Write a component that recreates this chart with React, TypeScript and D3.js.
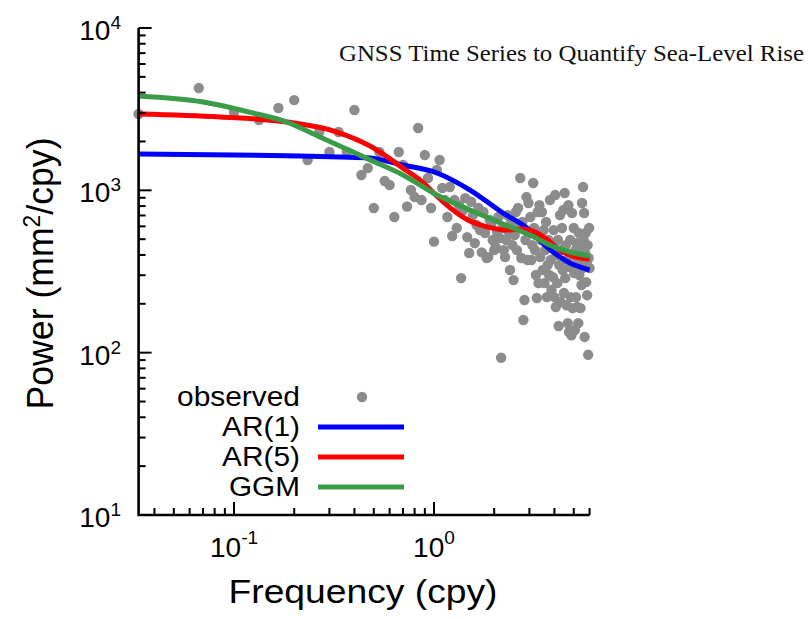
import React from "react";
import * as d3 from "d3";

// Observed periodogram power (mm^2/cpy), one value per frequency k/30 cpy, k = 1..180
const observedPower = [
  2951, 4266, 3036, 2711, 3213, 3597, 1537, 2287, 1722, 2287,
  1722, 3124, 1243, 1371, 778, 1722, 1141, 1078, 685, 1722,
  1432, 795, 1004, 909, 2421, 871, 1649, 1191, 778, 483,
  1334, 1537, 1033, 871, 685, 1048, 523, 871, 586, 811,
  288, 756, 895, 515, 411, 850, 704, 473, 611, 778,
  569, 415, 735, 546, 383, 388, 656, 611, 494, 428,
  447, 553, 685, 508, 93, 586, 428, 388, 494, 704,
  553, 323, 638, 460, 280, 530, 735, 428, 778, 586,
  1191, 383, 638, 159, 211, 494, 909, 372, 835, 553,
  685, 372, 460, 1110, 586, 428, 301, 217, 735, 268,
  811, 388, 494, 735, 323, 569, 268, 428, 638, 220,
  347, 494, 301, 871, 372, 243, 460, 292, 569, 220,
  935, 191, 399, 268, 494, 146, 347, 704, 205, 428,
  586, 323, 756, 233, 962, 288, 460, 196, 372, 152,
  811, 134, 337, 494, 220, 128, 725, 188, 399, 586,
  309, 138, 428, 220, 473, 191, 361, 152, 546, 301,
  441, 188, 383, 261, 835, 332, 1048, 494, 725, 125,
  411, 546, 272, 361, 226, 460, 97, 383, 586, 332,
];
// periodogram frequencies: k / (30-year span)
const observedFreq = observedPower.map((_, i) => (i + 1) / 30);

// Model spectra
const ar1Freq = [0.0333, 0.1, 0.214, 0.339, 0.479, 0.7, 1.035, 1.514, 2.213, 2.917, 3.673, 4.786, 6.0];
const ar1Power = [1674, 1649, 1627, 1603, 1580, 1432, 1279, 1004, 725, 586, 447, 357, 323];

const ar5Freq = [0.0333, 0.0851, 0.184, 0.327, 0.479, 0.7, 0.851, 1.047, 1.245, 1.479, 1.862, 2.344, 2.754, 3.199, 3.715, 4.266, 4.898, 6.0];
const ar5Power = [2951, 2829, 2635, 2287, 1875, 1371, 1157, 909, 756, 656, 594, 569, 577, 553, 494, 428, 394, 377];

const ggmFreq = [0.0333, 0.07, 0.1245, 0.184, 0.269, 0.394, 0.479, 0.7, 1.035, 1.514, 2.213, 3.02, 3.802, 4.786, 6.0];
const ggmPower = [3811, 3501, 2995, 2635, 2130, 1720, 1540, 1243, 935, 756, 620, 530, 460, 417, 394];

const yMajorExps = [1, 2, 3, 4];
const xMajorExps = [-1, 0];
const legendLabels = ["observed", "AR(1)", "AR(5)", "GGM"];
const titleText = "GNSS Time Series to Quantify Sea-Level Rise";

const COLORS = { obs: "#8c8c8c", ar1: "#0000ff", ar5: "#ff0000", ggm: "#3a9b48" };

export default function App() {
  const W = 812, H = 619;
  const x = d3.scaleLog().domain([1 / 30, 6]).range([138.6, 589.6]);
  const y = d3.scaleLog().domain([10, 10000]).range([515, 28]);
  const x0 = x.range()[0], x1 = x.range()[1];
  const yb = y.range()[0], yt = y.range()[1];

  const yTicks: { v: number; major: boolean }[] = [];
  for (let e = 1; e <= 3; e++) for (let m = 1; m <= 9; m++) yTicks.push({ v: m * Math.pow(10, e), major: m === 1 });
  yTicks.push({ v: 10000, major: true });

  const xTicks: { v: number; major: boolean }[] = [];
  for (let e = -2; e <= 0; e++)
    for (let m = 1; m <= 9; m++) {
      const v = m * Math.pow(10, e);
      if (v >= 1 / 30 - 1e-9 && v <= 6 + 1e-9) xTicks.push({ v, major: m === 1 });
    }

  const line = d3
    .line<[number, number]>()
    .x((d) => x(d[0]))
    .y((d) => y(d[1]))
    .curve(d3.curveMonotoneX);

  const series = [
    { f: ar1Freq, p: ar1Power, c: COLORS.ar1 },
    { f: ar5Freq, p: ar5Power, c: COLORS.ar5 },
    { f: ggmFreq, p: ggmPower, c: COLORS.ggm },
  ];

  const font = "'Liberation Sans', Arial, Helvetica, sans-serif";
  const legendX = 300;
  const legendBase = 406;
  const legendStep = 30;
  const legendLens = [123, 78, 78, 71];

  return (
    <svg width={W} height={H} style={{ position: "absolute", left: 0, top: 0, background: "#fff" }} fontFamily={font}>
      <rect x={0} y={0} width={W} height={H} fill="#fff" />
      <text x={339} y={61} fontFamily="'Liberation Serif', 'Times New Roman', serif" fontSize={23} textLength={465} lengthAdjust="spacingAndGlyphs" fill="#111">
        {titleText}
      </text>

      {/* observed points */}
      <g fill={COLORS.obs}>
        {observedPower.map((p, i) => (
          <circle key={i} cx={x(observedFreq[i])} cy={y(p)} r={5.2} />
        ))}
      </g>

      {/* model lines */}
      {series.map((s, i) => (
        <path key={i} d={line(s.f.map((f, j) => [f, s.p[j]] as [number, number])) || ""} fill="none" stroke={s.c} strokeWidth={5} />
      ))}

      {/* axes */}
      <g stroke="#000" strokeWidth={2}>
        {yTicks.map((t, i) => (
          <line key={"y" + i} x1={x0} x2={x0 + (t.major ? 13 : 7)} y1={y(t.v)} y2={y(t.v)} />
        ))}
        {xTicks.map((t, i) => (
          <line key={"x" + i} x1={x(t.v)} x2={x(t.v)} y1={yb} y2={yb - (t.major ? 13 : 7)} />
        ))}
      </g>
      <path d={`M${x0},${yt}V${yb}H${x1}`} fill="none" stroke="#000" strokeWidth={2.6} />

      {/* y tick labels */}
      {yMajorExps.map((e) => (
        <text key={e} x={121} y={y(Math.pow(10, e)) + 12} textAnchor="end" fontSize={28} fill="#000">
          10<tspan dy={-11} fontSize={19}>{e}</tspan>
        </text>
      ))}
      {/* x tick labels */}
      {xMajorExps.map((e) => (
        <text key={e} x={x(Math.pow(10, e))} y={557} textAnchor="middle" fontSize={28} fill="#000">
          10<tspan dy={-13} fontSize={19}>{e}</tspan>
        </text>
      ))}

      {/* axis titles */}
      <text x={363} y={603} textAnchor="middle" fontSize={34} textLength={269} lengthAdjust="spacingAndGlyphs" fill="#000">
        Frequency (cpy)
      </text>
      <text transform={`translate(53,${(yt + yb) / 2 + 2}) rotate(-90)`} textAnchor="middle" fontSize={36} textLength={272} lengthAdjust="spacingAndGlyphs" fill="#000">
        Power (mm<tspan dy={-13} fontSize={23}>2</tspan><tspan dy={13}>/cpy)</tspan>
      </text>

      {/* legend */}
      {legendLabels.map((l, i) => (
        <text key={l} x={legendX} y={legendBase + i * legendStep} textAnchor="end" fontSize={27} textLength={legendLens[i]} lengthAdjust="spacingAndGlyphs" fill="#000">
          {l}
        </text>
      ))}
      <circle cx={362} cy={legendBase - 9} r={5.2} fill={COLORS.obs} />
      {[COLORS.ar1, COLORS.ar5, COLORS.ggm].map((c, i) => (
        <line key={c} x1={318} x2={404} y1={legendBase + (i + 1) * legendStep - 9} y2={legendBase + (i + 1) * legendStep - 9} stroke={c} strokeWidth={5} />
      ))}
    </svg>
  );
}
